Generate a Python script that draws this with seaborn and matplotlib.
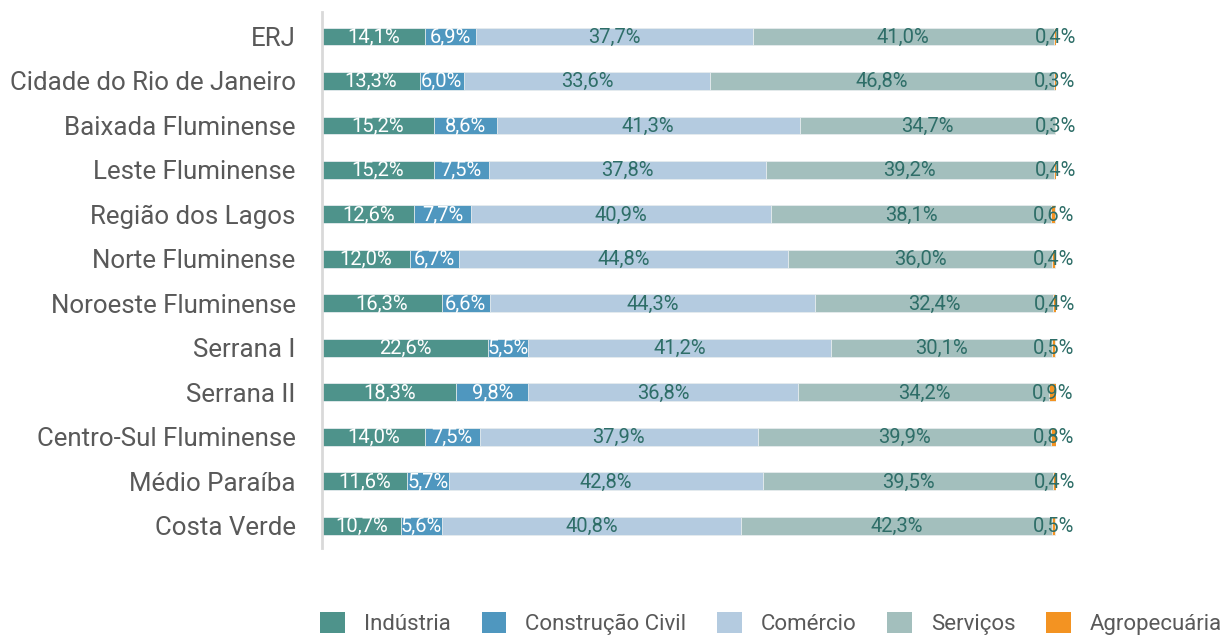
import matplotlib
matplotlib.use("Agg")
import matplotlib.pyplot as plt
import seaborn as sns
import numpy as np
import pandas as pd
from matplotlib.patches import Patch

regions = ["ERJ", "Cidade do Rio de Janeiro", "Baixada Fluminense", "Leste Fluminense",
           "Região dos Lagos", "Norte Fluminense", "Noroeste Fluminense", "Serrana I",
           "Serrana II", "Centro-Sul Fluminense", "Médio Paraíba", "Costa Verde"]
industria = [14.1, 13.3, 15.2, 15.2, 12.6, 12.0, 16.3, 22.6, 18.3, 14.0, 11.6, 10.7]
construcao = [6.9, 6.0, 8.6, 7.5, 7.7, 6.7, 6.6, 5.5, 9.8, 7.5, 5.7, 5.6]
comercio = [37.7, 33.6, 41.3, 37.8, 40.9, 44.8, 44.3, 41.2, 36.8, 37.9, 42.8, 40.8]
servicos = [41.0, 46.8, 34.7, 39.2, 38.1, 36.0, 32.4, 30.1, 34.2, 39.9, 39.5, 42.3]
agro = [0.4, 0.3, 0.3, 0.4, 0.6, 0.4, 0.4, 0.5, 0.9, 0.8, 0.4, 0.5]

series_names = ["Indústria", "Construção Civil", "Comércio", "Serviços", "Agropecuária"]
series_vals = [industria, construcao, comercio, servicos, agro]
colors = ["#4e938b", "#4f97bf", "#b4cbe0", "#a3bfbd", "#f39322"]
label_colors = ["white", "white", "#2e6e68", "#2e6e68", "#2e6e68"]

sns.set_theme(style="white")
plt.rcParams['font.family'] = ['Roboto', 'DejaVu Sans']

fig = plt.figure(figsize=(12.26, 6.36), dpi=100)
ax = fig.add_axes([322/1226, 1 - 548/636, (1056 - 322)/1226, (548 - 12)/636])

vals = np.array(series_vals)
cum = np.cumsum(vals, axis=0)
starts = cum - vals

# Layer cumulative bars from largest to smallest
for i in reversed(range(len(series_names))):
    df = pd.DataFrame({"region": regions, "value": cum[i]})
    sns.barplot(data=df, y="region", x="value", color=colors[i], orient="h",
                width=0.4, ax=ax, edgecolor="#e8eef0", linewidth=0.6, saturation=1)

for i in range(len(series_names)):
    for j, r in enumerate(regions):
        center = starts[i, j] + vals[i, j] / 2
        ax.text(center, j + 0.02, f"{vals[i, j]:.1f}%".replace(".", ","), ha="center", va="center",
                color=label_colors[i], fontsize=14.5)

ax.set_xlim(0, 100)
ax.set_ylim(11.5, -0.55)
ax.set_xlabel("")
ax.set_ylabel("")
ax.set_xticks([])
for s in ["top", "right", "bottom"]:
    ax.spines[s].set_visible(False)
ax.spines["left"].set_color("#d9d9d9")
ax.spines["left"].set_linewidth(2)
ax.tick_params(axis="y", length=0, pad=19, labelsize=18.6, labelcolor="#595959")

handles = [Patch(facecolor=c, edgecolor="none") for c in colors]
fig.legend(handles, series_names, loc="lower center", bbox_to_anchor=(0.629, -0.03), ncol=5,
           frameon=False, fontsize=16, labelcolor="#595959", handlelength=1.1, handleheight=1.1,
           handletextpad=0.85, columnspacing=1.4)

fig.savefig("out.png", dpi=100)
